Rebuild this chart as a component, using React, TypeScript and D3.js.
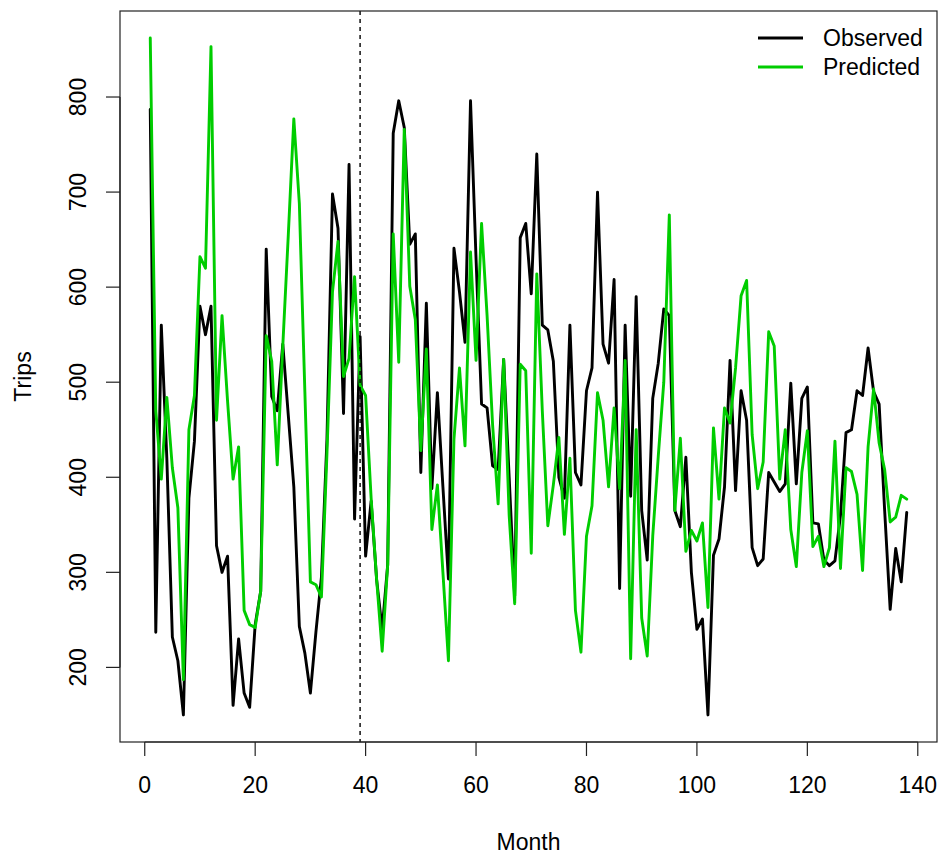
import React, { useRef, useEffect } from 'react';
import * as d3 from 'd3';

// monthly trips, observed vs model prediction
const observed = [
  787, 237, 560, 420, 232, 207, 150, 378, 438, 580,
  550, 580, 328, 300, 317, 160, 230, 173, 158, 245,
  280, 640, 485, 470, 540, 465, 390, 243, 215, 173,
  237, 295, 440, 698, 662, 467, 729, 356, 548, 317,
  375, 292, 240, 308, 762, 796, 768, 645, 656, 405,
  583, 388, 489, 390, 293, 641, 595, 542, 796, 630,
  477, 473, 412, 408, 524, 400, 275, 652, 667, 593,
  740, 560, 555, 522, 400, 378, 560, 405, 392, 491,
  515, 700, 540, 520, 608, 283, 560, 380, 590, 365,
  313, 483, 520, 577, 570, 365, 348, 421, 300, 240,
  251, 150, 318, 335, 390, 523, 386, 491, 460, 326,
  307, 314, 405, 395, 385, 393, 499, 393, 483, 495,
  352, 351, 313, 307, 312, 360, 447, 450, 491, 486,
  536, 490, 477, 365, 261, 325, 290, 363,
];

const predicted = [
  862, 470, 398, 484, 410, 368, 187, 450, 486, 632,
  620, 853, 460, 570, 480, 398, 432, 260, 245, 242,
  280, 549, 522, 413, 538, 655, 777, 688, 490, 290,
  287, 274, 425, 595, 648, 506, 525, 611, 497, 486,
  378, 292, 217, 308, 656, 521, 766, 601, 566, 428,
  535, 345, 392, 300, 207, 440, 515, 433, 637, 523,
  667, 570, 455, 372, 524, 360, 267, 519, 512, 320,
  614, 470, 349, 392, 442, 340, 420, 260, 216, 338,
  370, 489, 460, 390, 473, 388, 523, 209, 450, 252,
  212, 338, 422, 500, 676, 365, 441, 322, 344, 333,
  352, 263, 452, 377, 473, 457, 515, 591, 607, 445,
  388, 416, 553, 538, 398, 450, 345, 306, 405, 449,
  327, 338, 306, 326, 438, 304, 410, 406, 382, 302,
  432, 493, 436, 408, 353, 358, 381, 377,
];

const xTicks = [0, 20, 40, 60, 80, 100, 120, 140];
const yTicks = [200, 300, 400, 500, 600, 700, 800];
const splitMonth = 39;
const legendItems = ['Observed', 'Predicted'];
const colors = ['#000000', '#00CD00'];

const W = 943, H = 857;
const box = { left: 120, right: 937, top: 11, bottom: 742 };
const font = '"Liberation Sans", Arial, Helvetica, sans-serif';
const fs = 23;

const App = () => {
  const svgRef = useRef<SVGSVGElement>(null);

  useEffect(() => {
    const svg = d3.select(svgRef.current);
    svg.selectAll('*').remove();

    const months = observed.map((_, i) => i + 1);
    const all = observed.concat(predicted);
    const [ymin, ymax] = d3.extent(all) as [number, number];
    const ypad = (ymax - ymin) * 0.04;
    const xpad = (months.length - 1) * 0.04;

    const x = d3.scaleLinear().domain([1 - xpad, months.length + xpad]).range([box.left, box.right]);
    const y = d3.scaleLinear().domain([ymin - ypad, ymax + ypad]).range([box.bottom, box.top]);

    const g = svg.append('g');

    // series
    [observed, predicted].forEach((series, k) => {
      const line = d3.line<number>()
        .x((d, i) => x(i + 1))
        .y(d => y(d));
      g.append('path')
        .attr('d', line(series))
        .attr('fill', 'none')
        .attr('stroke', colors[k])
        .attr('stroke-width', 2.9)
        .attr('stroke-linejoin', 'round')
        .attr('stroke-linecap', 'round');
    });

    // dashed split line
    g.append('line')
      .attr('x1', x(splitMonth)).attr('x2', x(splitMonth))
      .attr('y1', box.top).attr('y2', box.bottom)
      .attr('stroke', 'black')
      .attr('stroke-width', 1.4)
      .attr('stroke-dasharray', '4,4');

    // box
    g.append('rect')
      .attr('x', box.left).attr('y', box.top)
      .attr('width', box.right - box.left).attr('height', box.bottom - box.top)
      .attr('fill', 'none').attr('stroke', '#222').attr('stroke-width', 1.2);

    // x axis
    const xa = g.append('g').attr('transform', `translate(0,${box.bottom})`);
    xa.append('line').attr('x1', x(xTicks[0])).attr('x2', x(xTicks[xTicks.length - 1]))
      .attr('stroke', '#222').attr('stroke-width', 1.2);
    xTicks.forEach(t => {
      xa.append('line').attr('x1', x(t)).attr('x2', x(t)).attr('y1', 0).attr('y2', 14)
        .attr('stroke', '#222').attr('stroke-width', 1.2);
      xa.append('text').attr('x', x(t)).attr('y', 51)
        .attr('text-anchor', 'middle').attr('font-family', font).attr('font-size', fs)
        .text(t);
    });

    // y axis
    const ya = g.append('g').attr('transform', `translate(${box.left},0)`);
    ya.append('line').attr('y1', y(yTicks[0])).attr('y2', y(yTicks[yTicks.length - 1]))
      .attr('stroke', '#222').attr('stroke-width', 1.2);
    yTicks.forEach(t => {
      ya.append('line').attr('x1', 0).attr('x2', -14).attr('y1', y(t)).attr('y2', y(t))
        .attr('stroke', '#222').attr('stroke-width', 1.2);
      ya.append('text')
        .attr('transform', `translate(${-34},${y(t)}) rotate(-90)`)
        .attr('text-anchor', 'middle').attr('font-family', font).attr('font-size', fs)
        .text(t);
    });

    // titles
    svg.append('text').attr('x', (box.left + box.right) / 2).attr('y', 850)
      .attr('text-anchor', 'middle').attr('font-family', font).attr('font-size', fs)
      .text('Month');
    svg.append('text')
      .attr('transform', `translate(31,${(box.top + box.bottom) / 2}) rotate(-90)`)
      .attr('text-anchor', 'middle').attr('font-family', font).attr('font-size', fs)
      .text('Trips');

    // legend
    legendItems.forEach((name, i) => {
      const ly = 38 + i * 29;
      svg.append('line').attr('x1', 758).attr('x2', 803).attr('y1', ly).attr('y2', ly)
        .attr('stroke', colors[i]).attr('stroke-width', 2.9);
      svg.append('text').attr('x', 823).attr('y', ly + 8)
        .attr('font-family', font).attr('font-size', fs)
        .text(name);
    });
  }, []);

  return (
    <svg ref={svgRef} width={W} height={H}
      style={{ position: 'absolute', left: 0, top: 0, background: '#fff' }} />
  );
};

export default App;
